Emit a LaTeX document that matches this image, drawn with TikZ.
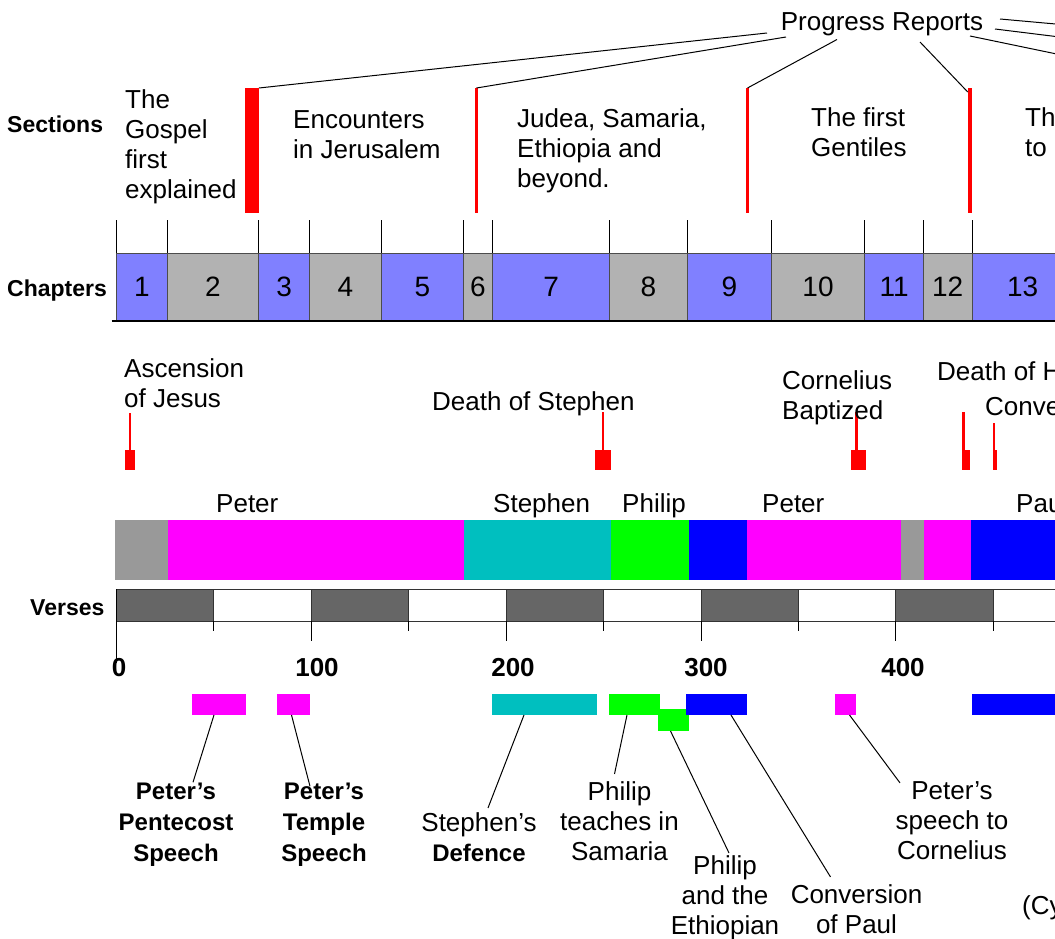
\documentclass[tikz,border=0pt]{standalone}
\usepackage{fontspec}
\setmainfont{Liberation Sans}
\usepackage{xcolor}
\usepackage{tikz}
\usetikzlibrary{positioning}

\definecolor{chblue}{HTML}{8080FF}
\definecolor{chgray}{HTML}{B2B2B2}
\definecolor{bandgray}{HTML}{999999}
\definecolor{bandcyan}{HTML}{00BFBF}
\definecolor{peterpink}{HTML}{FF00FF}
\definecolor{philipgreen}{HTML}{00FF00}
\definecolor{paulblue}{HTML}{0000FF}
\definecolor{versegray}{HTML}{666666}
\definecolor{divred}{HTML}{FF0000}

\tikzset{
	txt/.style={inner sep=0pt, align=center, font=\fontsize{26}{30}\selectfont},
	btxt/.style={inner sep=0pt, align=center, font=\fontsize{24}{31}\selectfont\bfseries},
	rowlabel/.style={inner sep=0pt, anchor=base west, font=\fontsize{23}{27}\selectfont\bfseries},
	axislabel/.style={inner sep=0pt, anchor=base, font=\fontsize{26}{30}\selectfont\bfseries},
	chapter/.style={draw=black!70, line width=1pt, outer sep=0pt, inner sep=0pt, minimum height=68pt, font=\fontsize{28}{30}\selectfont},
	divider/.style={fill=divred, inner sep=0pt, outer sep=0pt, anchor=north, minimum height=125pt},
	evmark/.style={fill=divred, inner sep=0pt, outer sep=0pt, anchor=south, minimum height=20pt},
	stem/.style={draw=divred, line width=2.5pt},
	band/.style={inner sep=0pt, outer sep=0pt, anchor=north west, minimum height=60pt},
	versebox/.style={draw=black!80, line width=1pt, inner sep=0pt, outer sep=0pt, anchor=north west, minimum height=32pt, minimum width=97.435pt},
	vtick/.style={draw=black, line width=1pt},
	speech/.style={inner sep=0pt, outer sep=0pt, anchor=north west, minimum height=21pt},
	leader/.style={draw=black, line width=1pt}
}

\begin{document}
\begin{tikzpicture}[x=1pt, y=-1pt]
\useasboundingbox (0,0) rectangle (1055,939);
\clip (0,0) rectangle (1055,939);

\node (sections) [rowlabel] at (7,133) {Sections};
\node (chapters) [rowlabel] at (7,296) {Chapters};
\node (verses) [rowlabel] at (30,615) {Verses};

% sections and progress reports
\node (progress) 
	[txt, anchor=base] at (882,31) 
	{Progress Reports};
\node (sec1) [divider, minimum width=14pt] at (252,88) {};
\node (sec2) [divider, minimum width=3pt] at (476.5,88) {};
\node (sec3) [divider, minimum width=3pt] at (747.5,88) {};
\node (sec4) [divider, minimum width=4.5pt] at (970,88) {};

\node (tgospel) 
	[txt, align=left, anchor=base west] at (125,198) 
	{The\\Gospel\\first\\explained};
\node (tencounter) 
	[txt, align=left, anchor=base west] at (293,158) 
	{Encounters\\in Jerusalem};
\node (tjudea) 
	[txt, align=left, anchor=base west] at (517,187) 
	{Judea, Samaria,\\Ethiopia and\\beyond.};
\node (tgentiles) 
	[txt, align=left, anchor=base west] at (811,157) 
	{The first\\Gentiles};
\node (tnext) 
	[txt, align=left, anchor=base west] at (1025,157) 
	{Th\\to};

\coordinate (pr1) at (767,33);
\coordinate (pr2) at (786,37);
\coordinate (pr3) at (837,39.5);
\coordinate (pr4) at (920,42);
\coordinate (pr5) at (1000,19);
\coordinate (pr6) at (995,29);
\coordinate (pr7) at (970,36);
\coordinate (off5) at (1100,28);
\coordinate (off6) at (1100,42);
\coordinate (off7) at (1100,63);
\draw [leader] (pr1) -- (sec1.north east);
\draw [leader] (pr2) -- (sec2.north);
\draw [leader] (pr3) -- (sec3.north);
\draw [leader] (pr4) -- ([yshift=-4pt]sec4.north west);
\draw [leader] (pr5) -- (off5);
\draw [leader] (pr6) -- (off6);
\draw [leader] (pr7) -- (off7);

% chapters
\node (ch1) [chapter, fill=chblue, minimum width=50.67pt, anchor=north west] at (116.5,253) {1};
\node (ch2) [chapter, fill=chgray, minimum width=91.59pt, right=0pt of ch1] {2};
\node (ch3) [chapter, fill=chblue, minimum width=50.67pt, right=0pt of ch2] {3};
\node (ch4) [chapter, fill=chgray, minimum width=72.1pt, right=0pt of ch3] {4};
\node (ch5) [chapter, fill=chblue, minimum width=81.85pt, right=0pt of ch4] {5};
\node (ch6) [chapter, fill=chgray, minimum width=29.23pt, right=0pt of ch5] {6};
\node (ch7) [chapter, fill=chblue, minimum width=116.92pt, right=0pt of ch6] {7};
\node (ch8) [chapter, fill=chgray, minimum width=77.95pt, right=0pt of ch7] {8};
\node (ch9) [chapter, fill=chblue, minimum width=83.79pt, right=0pt of ch8] {9};
\node (ch10) [chapter, fill=chgray, minimum width=93.54pt, right=0pt of ch9] {10};
\node (ch11) [chapter, fill=chblue, minimum width=58.46pt, right=0pt of ch10] {11};
\node (ch12) [chapter, fill=chgray, minimum width=48.72pt, right=0pt of ch11] {12};
\node (ch13) [chapter, fill=chblue, minimum width=101.33pt, right=0pt of ch12] {13};
\foreach \c in {1,...,13}
	\draw [vtick] (ch\c.north west) -- ++(0,-33);
\draw [line width=1.5pt] (ch1.south west) ++(-5,0) -- (ch13.south east);

% events
\node (mAsc) [evmark, minimum width=10pt] at (130,470) {};
\node (mSteph) [evmark, minimum width=16pt] at (603,470) {};
\node (mCorn) [evmark, minimum width=15pt] at (858.5,470) {};
\node (mHerod) [evmark, minimum width=8pt] at (966,470) {};
\node (mConv) [evmark, minimum width=4pt] at (995,470) {};
\draw [stem] (mAsc.north) -- (mAsc.north |- 0,413);
\draw [stem] (mSteph.north) -- (mSteph.north |- 0,412);
\draw [stem] ([xshift=-2pt]mCorn.north) -- ([xshift=-2pt]mCorn.north |- 0,412);
\draw [stem] ([xshift=-2.5pt]mHerod.north) -- ([xshift=-2.5pt]mHerod.north |- 0,412);
\draw [stem] ([xshift=-1pt]mConv.north) -- ([xshift=-1pt]mConv.north |- 0,423);

\node (tasc) 
	[txt, align=left, anchor=base west] at (124,407) 
	{Ascension\\of Jesus};
\node (tsteph) 
	[txt, anchor=base west] at (432,410) 
	{Death of Stephen};
\node (tcorn) 
	[txt, align=left, anchor=base west] at (782,419) 
	{Cornelius\\Baptized};
\node (therod) 
	[txt, anchor=base west] at (937,380) 
	{Death of H};
\node (tconv) 
	[txt, anchor=base west] at (985,415) 
	{Conve};

% who is speaking
\node (b1) [band, fill=bandgray, minimum width=53pt] at (115,520) {};
\node (b2) [band, fill=peterpink, minimum width=296pt, right=0pt of b1] {};
\node (b3) [band, fill=bandcyan, minimum width=147pt, right=0pt of b2] {};
\node (b4) [band, fill=philipgreen, minimum width=78pt, right=0pt of b3] {};
\node (b5) [band, fill=paulblue, minimum width=58pt, right=0pt of b4] {};
\node (b6) [band, fill=peterpink, minimum width=154pt, right=0pt of b5] {};
\node (b7) [band, fill=bandgray, minimum width=23pt, right=0pt of b6] {};
\node (b8) [band, fill=peterpink, minimum width=47pt, right=0pt of b7] {};
\node (b9) [band, fill=paulblue, minimum width=120pt, right=0pt of b8] {};

\node (npeter) [txt, anchor=base west] at (216,512) {Peter};
\node (nstephen) [txt, anchor=base west] at (493,512) {Stephen};
\node (nphilip) [txt, anchor=base west] at (622,512) {Philip};
\node (npeter2) [txt, anchor=base west] at (762,512) {Peter};
\node (npaul) [txt, anchor=base west] at (1016,512) {Pau};

% verse scale
\foreach \i in {0,2,...,8}
	\node (v\i) [versebox, fill=versegray] at ({116.5+97.435*\i},589) {};
\foreach \i in {1,3,...,9}
	\node (v\i) [versebox, fill=white] at ({116.5+97.435*\i},589) {};
\foreach \i in {0,...,9}
	\draw [vtick] (v\i.south west) -- ++(0,10);
\foreach \i in {2,4,...,8}
	\draw [vtick] (v\i.south west) -- ++(0,20);
\draw [vtick] (v0.north west) -- ++(0,74);

\node (ax0) [axislabel] at (119,676) {0};
\node (ax1) [axislabel] at (317,676) {100};
\node (ax2) [axislabel] at (513,676) {200};
\node (ax3) [axislabel] at (706,676) {300};
\node (ax4) [axislabel] at (903,676) {400};

% speeches
\node (pent) [speech, fill=peterpink, minimum width=54pt] at (192,694) {};
\node (temple) [speech, fill=peterpink, minimum width=33pt] at (277,694) {};
\node (sdef) [speech, fill=bandcyan, minimum width=105pt] at (492,694) {};
\node (psam) [speech, fill=philipgreen, minimum width=51pt] at (609,694) {};
\node (peth) [speech, fill=philipgreen, minimum width=31pt, minimum height=22pt] at (658,709) {};
\node (cpaul) [speech, fill=paulblue, minimum width=61pt] at (686,694) {};
\node (pcorn) [speech, fill=peterpink, minimum width=21pt] at (835,694) {};
\node (plater) [speech, fill=paulblue, minimum width=120pt] at (972,694) {};

\node (lpent) 
	[btxt, anchor=base] at (176,861) 
	{Peter’s\\Pentecost\\Speech};
\node (ltemple) 
	[btxt, anchor=base] at (324,861) 
	{Peter’s\\Temple\\Speech};
\node (ldef) 
	[txt, anchor=base] at (479,861) 
	{Stephen’s\\{\fontsize{24}{31}\selectfont\bfseries Defence}};
\node (lsam) 
	[txt, anchor=base] at (619.5,860) 
	{Philip\\teaches in\\Samaria};
\node (leth) 
	[txt, anchor=base] at (725,934) 
	{Philip\\and the\\Ethiopian};
\node (lconv) 
	[txt, anchor=base] at (856.5,933) 
	{Conversion\\of Paul};
\node (lcornsp) 
	[txt, anchor=base] at (952,859) 
	{Peter’s\\speech to\\Cornelius};
\node (lcy) 
	[txt, anchor=base west] at (1022,914) 
	{(Cy};

\draw [leader] ([xshift=-5pt]pent.south) -- ([xshift=17pt]lpent.north);
\draw [leader] ([xshift=-2pt]temple.south) -- ([xshift=-14pt, yshift=-4pt]ltemple.north);
\draw [leader] ([xshift=-20.5pt]sdef.south) -- ([xshift=9pt, yshift=4pt]ldef.north);
\draw [leader] ([xshift=-7.5pt]psam.south) -- ([xshift=-5pt, yshift=7pt]lsam.north);
\draw [leader] ([xshift=-3pt]peth.south) -- ([xshift=4pt, yshift=2pt]leth.north);
\draw [leader] ([xshift=14.5pt]cpaul.south) -- ([xshift=-26pt, yshift=7pt]lconv.north);
\draw [leader] ([xshift=4pt]pcorn.south) -- ([xshift=-52pt, yshift=-2pt]lcornsp.north);
\end{tikzpicture}
\end{document}
